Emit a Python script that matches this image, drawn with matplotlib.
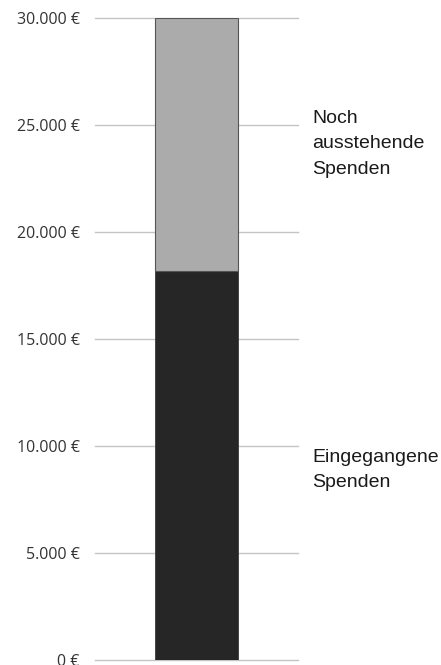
import matplotlib.pyplot as plt
from matplotlib.ticker import FuncFormatter

kategorie = ['Spenden']
eingegangen = [18200]
ausstehend = [11800]
y_ticks = [0, 5000, 10000, 15000, 20000, 25000, 30000]

fig = plt.figure(figsize=(4.41, 6.65), dpi=100)
ax = fig.add_axes([95 / 441, 5 / 665, 203 / 441, 642 / 665])

ax.bar(kategorie, eingegangen, width=0.41, color='#262626', edgecolor='#3a3a3a', linewidth=0.6, zorder=3)
ax.bar(kategorie, ausstehend, bottom=eingegangen, width=0.41, color='#ababab', edgecolor='#555555', linewidth=0.8, zorder=3)

ax.set_xlim(-0.5, 0.5)
ax.set_ylim(0, 30000)
ax.set_yticks(y_ticks)
ax.yaxis.set_major_formatter(FuncFormatter(lambda v, p: f'{int(v):,} €'.replace(',', '.')))
ax.grid(axis='y', color='#c4c4c4', linewidth=1, zorder=0)
for gl in ax.get_ygridlines():
    gl.set_clip_on(False)
ax.set_xticks([])
for s in ax.spines.values():
    s.set_visible(False)
ax.tick_params(axis='y', length=0, pad=11, labelsize=11.5, labelcolor='#333333')
for lab in ax.get_yticklabels():
    lab.set_fontfamily('Open Sans')

fig.text(312 / 441, 1 - 110 / 665, 'Noch\nausstehende\nSpenden', family='Liberation Sans',
         fontsize=14, color='#1a1a1a', va='top', ha='left', linespacing=1.65)
fig.text(312 / 441, 1 - 449 / 665, 'Eingegangene\nSpenden', family='Liberation Sans',
         fontsize=14, color='#1a1a1a', va='top', ha='left', linespacing=1.65)

fig.savefig('out.png', dpi=100)
